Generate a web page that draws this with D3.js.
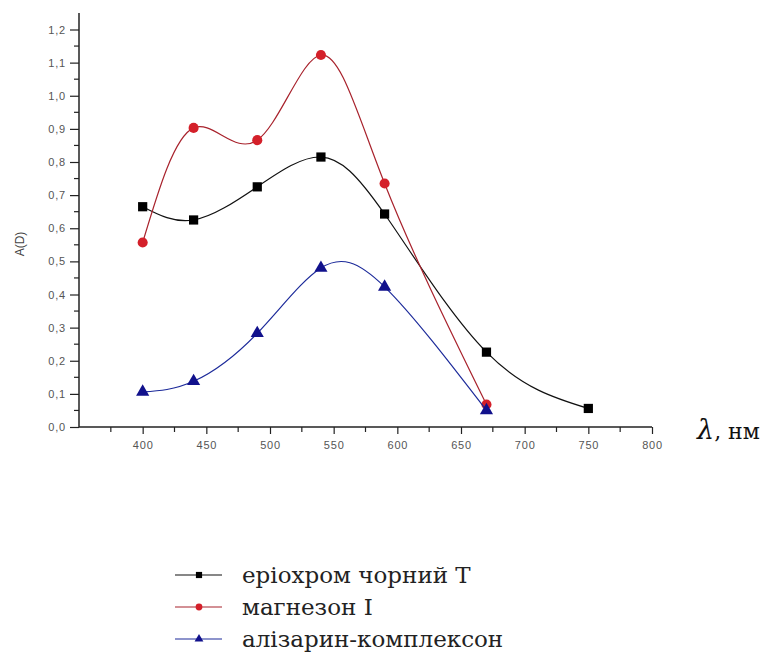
<!DOCTYPE html>
<html>
<head>
<meta charset="utf-8">
<style>
  body { margin: 0; background: #fff; }
  svg { display: block; }
  .tick text { font-family: "Liberation Sans", Arial, sans-serif; font-size: 11px; letter-spacing: 0.8px; fill: #555; }
</style>
</head>
<body>
<svg id="chart" width="779" height="671"></svg>
<script src="https://cdn.jsdelivr.net/npm/d3@7"></script>
<script>
// wavelengths, nm
var wave = [400, 440, 490, 540, 590, 670, 750];
// absorbance A(D) per reagent
var eriochrome = [0.665, 0.625, 0.725, 0.815, 0.643, 0.226, 0.056];
var magneson = [0.557, 0.903, 0.866, 1.123, 0.735, 0.068];
var alizarin = [0.106, 0.138, 0.283, 0.48, 0.423, 0.05];
var xTicks = [400, 450, 500, 550, 600, 650, 700, 750, 800];
var yTicks = [0, 0.1, 0.2, 0.3, 0.4, 0.5, 0.6, 0.7, 0.8, 0.9, 1.0, 1.1, 1.2];
var names = ["еріохром чорний Т", "магнезон I", "алізарин-комплексон"];

var svg = d3.select("#chart");
var serif = "'DejaVu Serif', serif";

var x = d3.scaleLinear().domain([350, 800]).range([79, 652]);
var y = d3.scaleLinear().domain([0, 1.2]).range([427, 29.5]);

var fmt = function(d) { return d3.format(".1f")(d).replace(".", ","); };

// y axis
var yAxis = svg.append("g").attr("transform", "translate(79,0)")
    .call(d3.axisLeft(y).tickValues(yTicks).tickFormat(fmt).tickSize(9).tickPadding(4));
yAxis.select(".domain").remove();
yAxis.selectAll(".tick line").attr("stroke", "#222").attr("stroke-width", 1.2);
svg.append("g").selectAll("line")
    .data(d3.range(0.05, 1.25, 0.1))
    .enter().append("line")
    .attr("x1", 74).attr("x2", 79)
    .attr("y1", function(d) { return y(d); })
    .attr("y2", function(d) { return y(d); })
    .attr("stroke", "#222").attr("stroke-width", 1.2);
svg.append("line")
    .attr("x1", 79).attr("x2", 79)
    .attr("y1", y(0)).attr("y2", y(1.25))
    .attr("stroke", "#222").attr("stroke-width", 1.5);

// x axis
var xAxis = svg.append("g").attr("transform", "translate(0,427)")
    .call(d3.axisBottom(x).tickValues(xTicks).tickSize(7).tickPadding(7));
xAxis.select(".domain").remove();
xAxis.selectAll(".tick line").attr("stroke", "#222").attr("stroke-width", 1.2);
svg.append("g").selectAll("line")
    .data(d3.range(375, 800, 50))
    .enter().append("line")
    .attr("x1", function(d) { return x(d); })
    .attr("x2", function(d) { return x(d); })
    .attr("y1", 427).attr("y2", 432)
    .attr("stroke", "#222").attr("stroke-width", 1.2);
svg.append("line")
    .attr("x1", x(350)).attr("x2", x(800))
    .attr("y1", 427).attr("y2", 427)
    .attr("stroke", "#222").attr("stroke-width", 1.5);

// axis titles
svg.append("text")
    .attr("transform", "translate(24,244) rotate(-90)")
    .attr("text-anchor", "middle")
    .attr("font-family", "Liberation Sans, Arial, sans-serif")
    .attr("font-size", 12).attr("fill", "#444")
    .text("A(D)");
var xt = svg.append("text")
    .attr("x", 697).attr("y", 439)
    .attr("font-family", serif)
    .attr("fill", "#111");
xt.append("tspan").attr("font-style", "italic").attr("font-size", 27).text("λ");
xt.append("tspan").attr("font-size", 22).text(", нм");

var series = [
  { vals: eriochrome, line: "#111", fill: "#000", shape: d3.symbolSquare, size: 85 },
  { vals: magneson, line: "#a8222c", fill: "#d4202a", shape: d3.symbolCircle, size: 80 },
  { vals: alizarin, line: "#1c2a9a", fill: "#11118c", shape: d3.symbolTriangle, size: 75 }
];

var line = d3.line()
    .x(function(d) { return x(d[0]); })
    .y(function(d) { return y(d[1]); })
    .curve(d3.curveNatural);

series.forEach(function(s) {
  var pts = s.vals.map(function(v, i) { return [wave[i], v]; });
  svg.append("path")
      .attr("d", line(pts))
      .attr("fill", "none")
      .attr("stroke", s.line)
      .attr("stroke-width", 1.2);
  svg.append("g").selectAll("path")
      .data(pts)
      .enter().append("path")
      .attr("transform", function(d) { return "translate(" + x(d[0]) + "," + y(d[1]) + ")"; })
      .attr("d", d3.symbol().type(s.shape).size(s.size))
      .attr("fill", s.fill);
});

// legend
var legY = [575, 607, 639];
series.forEach(function(s, i) {
  var g = svg.append("g").attr("transform", "translate(0," + legY[i] + ")");
  g.append("line").attr("x1", 175).attr("x2", 222).attr("y1", 0).attr("y2", 0)
      .attr("stroke", s.line).attr("stroke-width", 1.2);
  g.append("path").attr("transform", "translate(199,0)")
      .attr("d", d3.symbol().type(s.shape).size(s.size * 0.45))
      .attr("fill", s.fill);
  g.append("text").attr("x", 242).attr("y", 8)
      .attr("font-family", serif)
      .attr("font-size", 23).attr("fill", "#222")
      .text(names[i]);
});
</script>
</body>
</html>
